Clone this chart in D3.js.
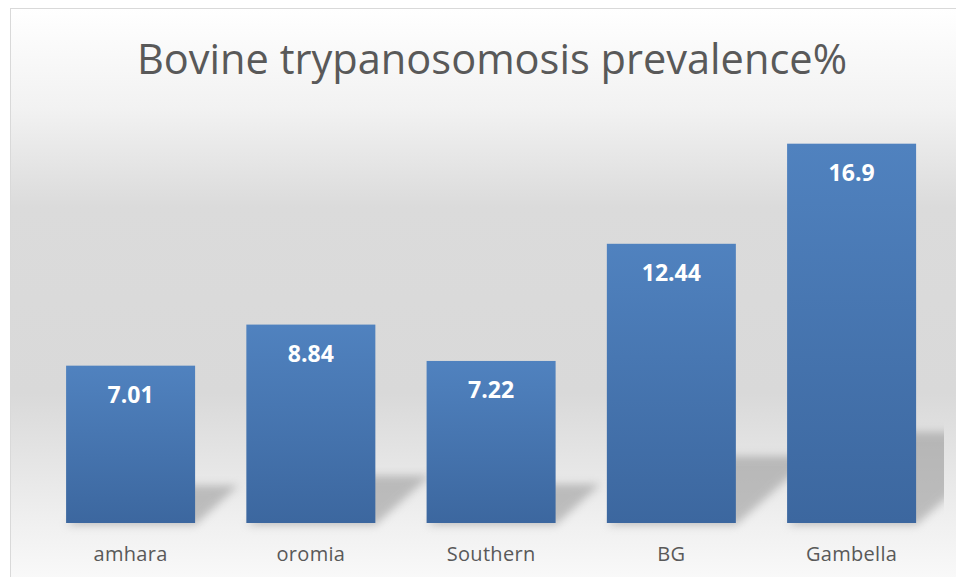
<!DOCTYPE html>
<html>
<head>
<meta charset="utf-8">
<script src="https://cdn.jsdelivr.net/npm/d3@7"></script>
<style>
  html, body { margin: 0; padding: 0; background: #ffffff; }
  svg { display: block; }
</style>
</head>
<body>
<svg id="chart" width="956" height="577"></svg>
<script>
const categories = ["amhara", "oromia", "Southern", "BG", "Gambella"];
const prevalence = [7.01, 8.84, 7.22, 12.44, 16.9];
const valueLabels = ["7.01", "8.84", "7.22", "12.44", "16.9"];
const titleText = "Bovine trypanosomosis prevalence%";

const W = 956, H = 577;
const svg = d3.select("#chart");
const defs = svg.append("defs");

// chart background gradient
const bg = defs.append("linearGradient").attr("id", "bgGrad")
  .attr("x1", 0).attr("y1", 0).attr("x2", 0).attr("y2", 1);
[[0, "#ffffff"], [0.16, "#f2f2f2"], [0.32, "#dbdbdb"], [0.62, "#d9d9d9"],
 [0.83, "#f0f0f0"], [0.93, "#fafafa"], [1, "#fcfcfc"]]
  .forEach(([o, c]) => bg.append("stop").attr("offset", o).attr("stop-color", c));

const barGrad = defs.append("linearGradient").attr("id", "barGrad")
  .attr("x1", 0).attr("y1", 0).attr("x2", 0).attr("y2", 1);
barGrad.append("stop").attr("offset", 0).attr("stop-color", "#5082bf");
barGrad.append("stop").attr("offset", 1).attr("stop-color", "#3c679f");

const blur = defs.append("filter").attr("id", "shadowBlur")
  .attr("x", "-30%").attr("y", "-30%").attr("width", "160%").attr("height", "160%");
blur.append("feGaussianBlur").attr("stdDeviation", 4.5);

defs.append("clipPath").attr("id", "plotClip")
  .append("rect").attr("x", 11).attr("y", 9).attr("width", 933).attr("height", 560);

// chart area frame
svg.append("rect")
  .attr("x", 10.5).attr("y", 8.5).attr("width", 980).attr("height", 620)
  .attr("fill", "url(#bgGrad)").attr("stroke", "#d9d9d9").attr("stroke-width", 1);

// title
svg.append("text")
  .attr("x", 492).attr("y", 74)
  .attr("text-anchor", "middle")
  .attr("font-family", "'Open Sans', 'Noto Sans', sans-serif")
  .attr("font-size", 42)
  .attr("fill", "#595959")
  .attr("textLength", 710).attr("lengthAdjust", "spacingAndGlyphs")
  .text(titleText);

// scales
const x = d3.scaleBand().domain(categories)
  .range([40.5, 941.7]).paddingInner(0.2843).paddingOuter(0.142);
const y = d3.scaleLinear().domain([0, 18]).range([523, 119]);

const plot = svg.append("g");

// floor shadows behind bars
plot.append("g").attr("clip-path", "url(#plotClip)")
  .selectAll("path.shadow").data(categories).enter().append("path")
  .attr("class", "shadow")
  .attr("d", (c, i) => {
    const x0 = x(c), x1 = x(c) + x.bandwidth();
    const h = (y(0) - y(prevalence[i])) * 0.24;
    const dx = h * 1.15;
    return `M${x0},${y(0) + 2} L${x1},${y(0) + 2} L${x1 + dx},${y(0) - h} L${x0 + dx},${y(0) - h} Z`;
  })
  .attr("fill", "#8c8c8c")
  .attr("opacity", 0.5)
  .attr("filter", "url(#shadowBlur)");

// bars
plot.selectAll("rect.bar").data(categories).enter().append("rect")
  .attr("class", "bar")
  .attr("x", c => x(c))
  .attr("width", x.bandwidth())
  .attr("y", (c, i) => y(prevalence[i]))
  .attr("height", (c, i) => y(0) - y(prevalence[i]))
  .attr("fill", "url(#barGrad)");

// value labels
plot.selectAll("text.val").data(categories).enter().append("text")
  .attr("class", "val")
  .attr("x", c => x(c) + x.bandwidth() / 2)
  .attr("y", (c, i) => y(prevalence[i]) + 37)
  .attr("text-anchor", "middle")
  .attr("font-family", "'Open Sans', 'Noto Sans', sans-serif")
  .attr("font-weight", "bold")
  .attr("font-size", 23)
  .attr("fill", "#ffffff")
  .text((c, i) => valueLabels[i]);

// category axis
const xAxis = svg.append("g")
  .attr("transform", `translate(0,${y(0)})`)
  .call(d3.axisBottom(x).tickSize(0).tickPadding(24));
xAxis.select(".domain").remove();
xAxis.selectAll("text")
  .attr("font-family", "'Open Sans', 'Noto Sans', sans-serif")
  .attr("font-size", 20)
  .attr("letter-spacing", "0.3px")
  .attr("fill", "#595959");
</script>
</body>
</html>
